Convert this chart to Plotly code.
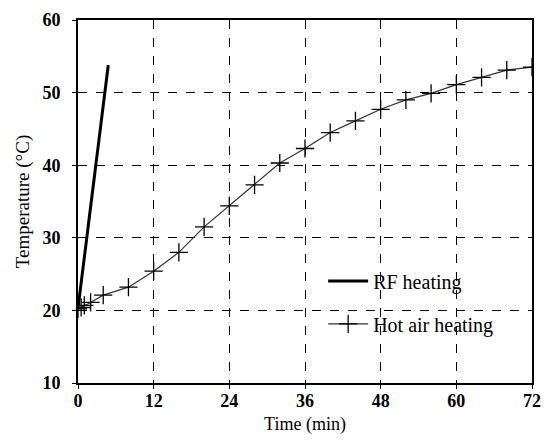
import plotly.graph_objects as go

# RF heating
rf_time = [0, 1, 2, 3, 4, 4.8]
rf_temp = [20.3, 27.2, 34.1, 41.0, 47.9, 53.8]

# Hot air heating
air_time = [0, 0.5, 1, 2, 4, 8, 12, 16, 20, 24, 28, 32, 36, 40, 44, 48, 52, 56, 60, 64, 68, 72]
air_temp = [20.2, 20.4, 20.7, 21.1, 22.1, 23.2, 25.4, 28.0, 31.5, 34.4, 37.3, 40.3, 42.3,
            44.5, 46.1, 47.7, 49.0, 49.9, 51.1, 52.1, 53.1, 53.5]

x_ticks = [0, 12, 24, 36, 48, 60, 72]
y_ticks = [10, 20, 30, 40, 50, 60]

font_family = "Liberation Serif, Times New Roman, serif"

fig = go.Figure()
fig.add_trace(go.Scatter(
    x=rf_time, y=rf_temp, mode="lines", name="RF heating",
    line=dict(color="black", width=3), legendgroup="a",
))
fig.add_trace(go.Scatter(
    x=air_time, y=air_temp, mode="lines+markers", name="Hot air heating",
    line=dict(color="#333333", width=1.2),
    marker=dict(symbol="cross-thin", size=13, line=dict(color="black", width=1.3)),
    legendgroup="b",
))

axis_common = dict(
    showline=True, linecolor="black", linewidth=2, mirror=True,
    showgrid=True, gridcolor="black", griddash="dash", gridwidth=1.3,
    zeroline=False, ticks="outside", ticklen=4, tickcolor="black",
    tickfont=dict(family=font_family, size=18, color="black", weight="bold"),
)

fig.update_xaxes(
    range=[0, 72], tickvals=x_ticks, ticktext=[str(v) for v in x_ticks],
    ticklabelstandoff=-4,
    title=dict(text="Time (min)", font=dict(family=font_family, size=18, color="black"), standoff=8),
    **axis_common,
)
fig.update_yaxes(
    range=[10, 60], tickvals=y_ticks, ticktext=[str(v) for v in y_ticks],
    ticklabelstandoff=8,
    title=dict(text="Temperature (°C)", font=dict(family=font_family, size=19, color="black"), standoff=8),
    **axis_common,
)

fig.update_layout(
    width=551, height=441,
    margin=dict(l=78, r=10, t=15, b=57),
    paper_bgcolor="white", plot_bgcolor="white",
    showlegend=True,
    legend=dict(
        x=0.54, y=0.335, xanchor="left", yanchor="top",
        bgcolor="rgba(0,0,0,0)", borderwidth=0,
        font=dict(family=font_family, size=20, color="black"),
        tracegroupgap=14, traceorder="grouped", itemwidth=40,
    ),
)

fig.write_html("out.html")
